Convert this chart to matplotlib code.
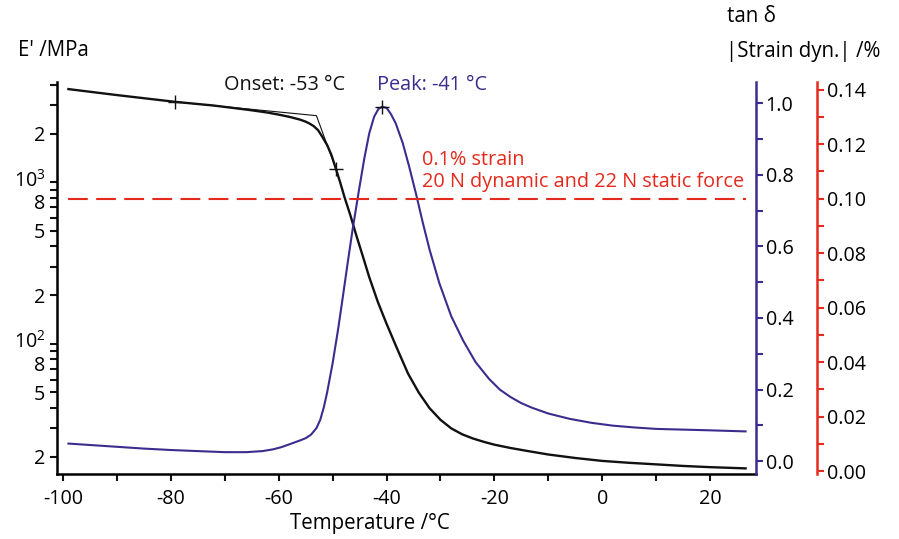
import numpy as np
import matplotlib
matplotlib.use("Agg")
import matplotlib.pyplot as plt
import matplotlib.transforms as mtrans
from matplotlib.ticker import FixedLocator, FixedFormatter, MultipleLocator, FormatStrFormatter

plt.rcParams['font.family'] = ['Open Sans', 'DejaVu Sans']
plt.rcParams['mathtext.fontset'] = 'custom'
plt.rcParams['mathtext.rm'] = 'Open Sans'
plt.rcParams['axes.unicode_minus'] = False

# colours
BLACK = '#111111'
PURPLE = '#3b2c8e'
RED = '#e52a1d'

# E' storage modulus (MPa), log scale
temp_E = [-99, -90, -79.2, -72, -65.3, -62, -60, -58, -56, -55, -54.3, -53.5, -52.7,
          -51.9, -51, -50.2, -49.4, -48.6, -47.8, -46.7, -45.7, -44.5, -43.2, -41.6,
          -40, -38, -36, -34, -32, -30, -28, -26, -24, -22, -20, -17, -14, -10,
          -5, 0, 5, 10, 15, 20, 26.6]
E_mod = [3767, 3459, 3141, 2979, 2793, 2694, 2618, 2536, 2436, 2369, 2307, 2222, 2099,
         1906, 1693, 1468, 1214, 998, 809, 623, 480, 357, 258, 181,
         133, 92.6, 65.2, 49.7, 39.8, 33.8, 29.9, 27.5, 25.9, 24.7, 23.7, 22.6, 21.7, 20.6,
         19.6, 18.8, 18.3, 17.9, 17.5, 17.2, 16.9]

# tan delta
temp_tan = [-99, -95, -90, -85, -80, -75, -70, -66, -63, -61, -59.5, -58, -56, -55, -54,
            -53, -52.3, -51.6, -51, -50, -49, -48.1, -47.2, -46.3, -45.1, -44.1, -43.2,
            -42.3, -41.5, -40.8, -40, -39.2, -38.3, -37, -35.8, -34.5, -33.3, -32, -30.2,
            -28, -25.8, -23.5, -21, -19, -17, -15, -13, -10, -6, -2, 2, 6, 10, 15, 20, 26.6]
tan_d = [0.049, 0.045, 0.040, 0.035, 0.031, 0.028, 0.025, 0.025, 0.028, 0.033, 0.039,
         0.047, 0.058, 0.064, 0.074, 0.092, 0.115, 0.152, 0.193, 0.273, 0.366, 0.459,
         0.554, 0.646, 0.758, 0.847, 0.916, 0.962, 0.984, 0.990, 0.987, 0.970, 0.944,
         0.889, 0.823, 0.745, 0.668, 0.590, 0.497, 0.405, 0.337, 0.277, 0.230, 0.200,
         0.179, 0.162, 0.149, 0.133, 0.118, 0.107, 0.099, 0.094, 0.090, 0.088, 0.086, 0.083]

# dynamic strain (%)
temp_strain = [-99, 26.6]
strain = [0.1, 0.1]

# onset construction
onset_line_T = [-79.2, -53, -49.4]
onset_line_E = [3141, 2580, 1213]
cross_T = [-79.2, -49.4]
cross_E = [3141, 1213]
peak_T = -40.8
peak_tan = 0.990

fig = plt.figure(figsize=(8.99, 5.39), dpi=100)
ax = fig.add_axes([57.3 / 899, 1 - 474 / 539, (756 - 57.3) / 899, (474 - 81.7) / 539])
ax2 = ax.twinx()
ax3 = ax.twinx()

fs_tick = 14.2
fs_lab = 14.8
fs_ann = 14.3
lw_sp = 1.8

# E'
ax.plot(temp_E, E_mod, color=BLACK, lw=1.7, zorder=3)
ax.plot(onset_line_T, onset_line_E, color=BLACK, lw=0.8, zorder=3)
ax.plot(cross_T, cross_E, '+', color=BLACK, ms=10, mew=1.0, zorder=4)
ax.set_yscale('log')
ax.set_xlim(-101.06, 28.53)
ax.set_ylim(15.6, 4186)

major_y = [20, 50, 80, 100, 200, 500, 800, 1000, 2000]
major_lab = ['2', '5', '8', r'$\mathregular{10^2}$', '2', '5', '8', r'$\mathregular{10^3}$', '2']
minor_y = [30, 40, 60, 70, 90, 300, 400, 600, 700, 900, 3000, 4000]
ax.yaxis.set_major_locator(FixedLocator(major_y))
ax.yaxis.set_major_formatter(FixedFormatter(major_lab))
ax.yaxis.set_minor_locator(FixedLocator(minor_y))
ax.yaxis.set_minor_formatter(FixedFormatter([''] * len(minor_y)))
ax.xaxis.set_major_locator(MultipleLocator(20))
ax.xaxis.set_minor_locator(MultipleLocator(10))
ax.tick_params(axis='both', which='both', direction='out', length=5, width=1.5,
               labelsize=fs_tick, color=BLACK)
ax.tick_params(axis='x', which='major', pad=6)
ax.spines['top'].set_visible(False)
ax.spines['right'].set_visible(False)
ax.spines['left'].set_linewidth(lw_sp)
ax.spines['bottom'].set_linewidth(lw_sp)

# nudge crowded log labels apart a little
for val, lbl in zip(major_y, ax.yaxis.get_majorticklabels()):
    if val in (80, 800):
        dy = -3 / 72
    elif val in (100, 1000):
        dy = 3 / 72
    else:
        continue
    lbl.set_transform(lbl.get_transform() + mtrans.ScaledTranslation(0, dy, fig.dpi_scale_trans))

# tan delta
ax2.plot(temp_tan, tan_d, color=PURPLE, lw=1.5, zorder=3)
ax2.plot([peak_T], [peak_tan], '+', color=BLACK, ms=10, mew=1.0, zorder=4)
ax2.set_ylim(-0.036, 1.060)
ax2.yaxis.set_major_locator(MultipleLocator(0.2))
ax2.yaxis.set_minor_locator(MultipleLocator(0.1))
ax2.yaxis.set_major_formatter(FormatStrFormatter('%.1f'))
ax2.tick_params(axis='y', which='both', direction='out', length=5, width=1.5,
                color=PURPLE, labelsize=fs_tick, pad=2)
for s in ['top', 'left', 'bottom']:
    ax2.spines[s].set_visible(False)
ax2.spines['right'].set_color(PURPLE)
ax2.spines['right'].set_linewidth(lw_sp)

# strain
ax3.plot(temp_strain, strain, color=RED, lw=1.5, linestyle=(0, (9.5, 4)), zorder=2)
ax3.set_ylim(-0.001, 0.1429)
ax3.yaxis.set_major_locator(MultipleLocator(0.02))
ax3.yaxis.set_minor_locator(MultipleLocator(0.01))
ax3.yaxis.set_major_formatter(FormatStrFormatter('%.2f'))
ax3.tick_params(axis='y', which='both', direction='out', length=5, width=1.5,
                color=RED, labelsize=fs_tick, pad=2)
for s in ['top', 'left', 'bottom']:
    ax3.spines[s].set_visible(False)
ax3.spines['right'].set_position(('outward', 61 * 0.72))
ax3.spines['right'].set_color(RED)
ax3.spines['right'].set_linewidth(lw_sp)

# labels
fig.text(18 / 899, 1 - 50 / 539, "E' /MPa", fontsize=fs_lab, va='center', ha='left')
fig.text(776 / 899, 1 - 17 / 539, "tan δ", fontsize=fs_lab, va='center', ha='right')
fig.text(880 / 899, 1 - 52 / 539, "|Strain dyn.| /%", fontsize=fs_lab, va='center', ha='right')
fig.text(370 / 899, 1 - 524 / 539, "Temperature /°C", fontsize=fs_lab, va='center', ha='center')

fig.text(224 / 899, 1 - 85 / 539, "Onset: -53 °C", fontsize=fs_ann, va='center', ha='left', color=BLACK)
fig.text(377 / 899, 1 - 85 / 539, "Peak: -41 °C", fontsize=fs_ann, va='center', ha='left', color=PURPLE)
fig.text(422 / 899, 1 - 160 / 539, "0.1% strain", fontsize=fs_ann, va='center', ha='left', color=RED)
fig.text(422 / 899, 1 - 182 / 539, "20 N dynamic and 22 N static force", fontsize=fs_ann,
         va='center', ha='left', color=RED)

fig.savefig('out.png', dpi=100)
